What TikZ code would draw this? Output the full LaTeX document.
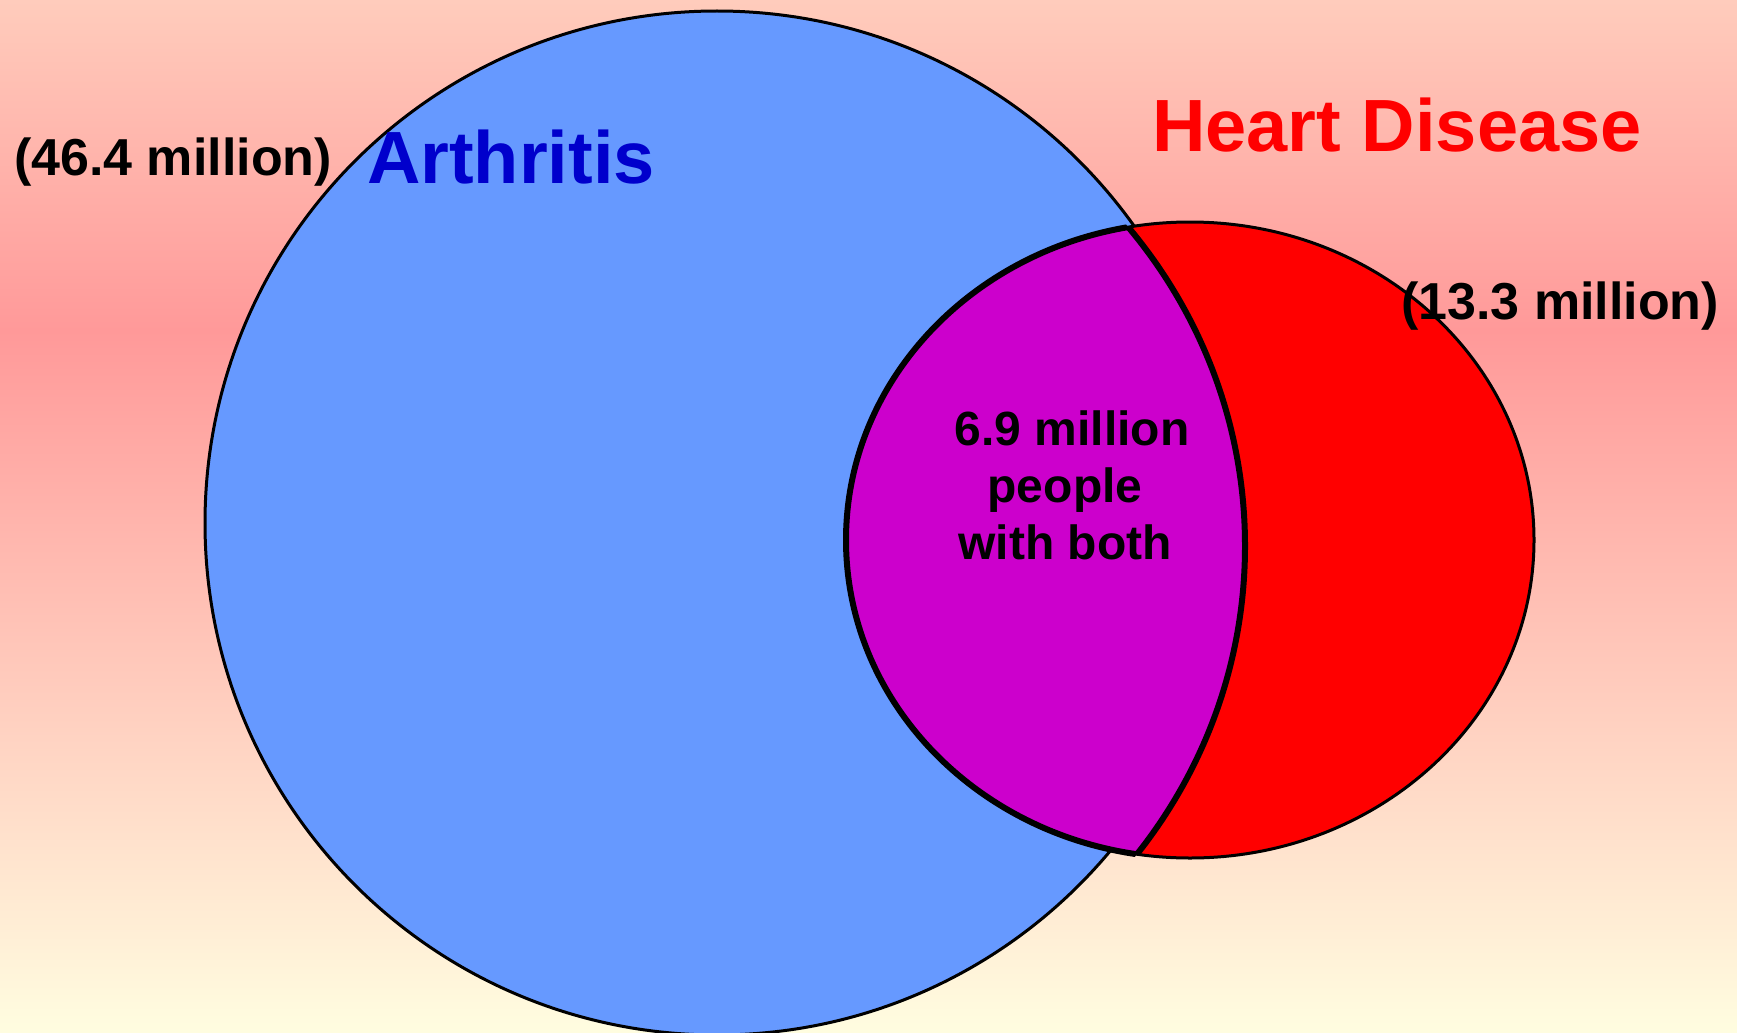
\documentclass[tikz,border=0pt]{standalone}
\usepackage{fontspec}
\setmainfont{Liberation Sans}
\definecolor{bgtop}{HTML}{FFCCBC}
\definecolor{bgpink}{HTML}{FF9999}
\definecolor{bgcream}{HTML}{FFFDE0}
\definecolor{artblue}{HTML}{6699FF}
\definecolor{heartred}{HTML}{FF0000}
\definecolor{bothpurple}{HTML}{CC00CC}
\definecolor{titleblue}{HTML}{0000CC}
\tikzset{
  vennline/.style={draw=black, line width=3pt},
  biglabel/.style={font=\bfseries\fontsize{52}{60}\selectfont, text=black, inner sep=0pt, anchor=base},
  titlelabel/.style={font=\bfseries\fontsize{74}{84}\selectfont, inner sep=0pt, anchor=base},
  bothlabel/.style={font=\bfseries\fontsize{48}{57}\selectfont, text=black, inner sep=0pt, anchor=base}
}
\begin{document}
\begin{tikzpicture}[x=1pt,y=-1pt]
\useasboundingbox (0,0) rectangle (1737,1033);
% background
\fill[top color=bgtop, bottom color=bgpink] (0,0) rectangle (1737,331);
\fill[top color=bgpink, bottom color=bgcream] (0,330) rectangle (1737,1033);
% arthritis circle
\fill[artblue] (717,523) ellipse[x radius=512pt, y radius=512pt];
\draw[vennline] (717,523) ellipse[x radius=512pt, y radius=512pt];
% heart disease ellipse
\fill[heartred] (1190,540) ellipse[x radius=344pt, y radius=318pt];
\draw[vennline] (1190,540) ellipse[x radius=344pt, y radius=318pt];
% overlap lens
\begin{scope}
  \clip (1190,540) ellipse[x radius=344pt, y radius=318pt];
  \fill[bothpurple] (725,546) ellipse[x radius=520pt, y radius=505pt];
  \draw[line width=6pt] (725,546) ellipse[x radius=520pt, y radius=505pt];
\end{scope}
\begin{scope}
  \clip (725,546) ellipse[x radius=520pt, y radius=505pt];
  \draw[line width=6pt] (1190,540) ellipse[x radius=344pt, y radius=318pt];
\end{scope}
% labels
\node[biglabel] (artnum) at (173,175) {(46.4 million)};
\node[titlelabel, text=titleblue] (arttitle) at (511,183) {Arthritis};
\node[titlelabel, text=heartred] (hearttitle) at (1397,151) {Heart Disease};
\node[biglabel] (heartnum) at (1560,319) {(13.3 million)};
\node[bothlabel] (both1) at (1072,445) {6.9 million};
\node[bothlabel] (both2) at (1065,502) {people};
\node[bothlabel] (both3) at (1065,559) {with both};
\end{tikzpicture}
\end{document}
